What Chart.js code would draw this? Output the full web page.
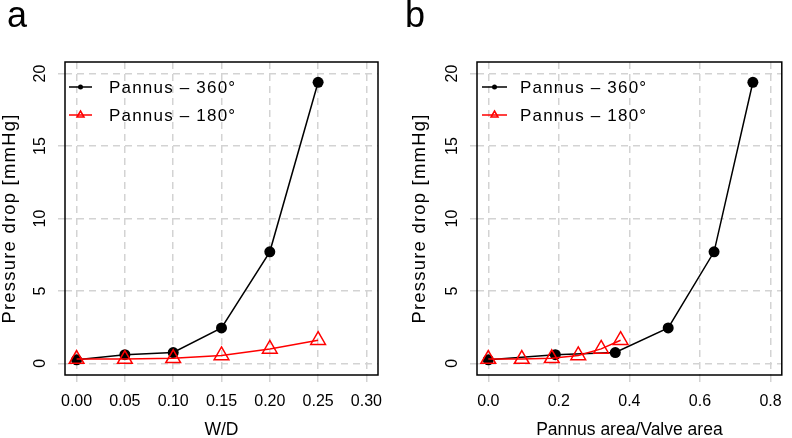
<!DOCTYPE html>
<html>
<head>
<meta charset="utf-8">
<script src="https://cdn.jsdelivr.net/npm/chart.js@4.4.1/dist/chart.umd.min.js"></script>
<style>
  body { margin: 0; background: #fff; }
  .panel { position: absolute; top: 0; width: 396px; height: 438px; }
</style>
</head>
<body>
<div class="panel" style="left:0"><canvas id="chartA"></canvas></div>
<div class="panel" style="left:396px"><canvas id="chartB"></canvas></div>
<script>
// values
const seriesNames = ["Pannus – 360°", "Pannus – 180°"];
const wdRatio360 = [0, 0.05, 0.10, 0.15, 0.20, 0.25];
const wdRatio180 = [0, 0.05, 0.10, 0.15, 0.20, 0.25];
const areaRatio360 = [0, 0.19, 0.36, 0.51, 0.64, 0.75];
const areaRatio180 = [0, 0.095, 0.18, 0.255, 0.32, 0.375];
const drop360 = [0.25, 0.6, 0.75, 2.45, 7.7, 19.4];
const drop180 = [0.3, 0.3, 0.35, 0.55, 1.0, 1.6];

const yTicks = [0, 5, 10, 15, 20];
const xTicksA = [0, 0.05, 0.10, 0.15, 0.20, 0.25, 0.30];
const xTickLabelsA = ["0.00", "0.05", "0.10", "0.15", "0.20", "0.25", "0.30"];
const xTicksB = [0, 0.2, 0.4, 0.6, 0.8];
const xTickLabelsB = ["0.0", "0.2", "0.4", "0.6", "0.8"];
const yTitle = "Pressure drop [mmHg]";

const FONT = "'Liberation Sans', Arial, sans-serif";
const RED = "#ff0000";
const GRID = "#d3d3d3";

function toPoints(xs, ys) {
  return xs.map((x, i) => ({ x: x, y: ys[i] }));
}

// frame, rotated y labels, legend and panel letter
const framePlugin = {
  id: "frame",
  afterDraw(chart, args, opts) {
    const ctx = chart.ctx;
    const area = chart.chartArea;
    const yScale = chart.scales.y;
    ctx.save();

    ctx.strokeStyle = "#000";
    ctx.lineWidth = 1.5;
    ctx.strokeRect(area.left, area.top, area.right - area.left, area.bottom - area.top);

    ctx.fillStyle = "#000";
    ctx.font = "16px " + FONT;
    ctx.textAlign = "center";
    ctx.textBaseline = "middle";
    yTicks.forEach((v) => {
      ctx.save();
      ctx.translate(area.left - 24, yScale.getPixelForValue(v));
      ctx.rotate(-Math.PI / 2);
      ctx.fillText(String(v), 0, 0);
      ctx.restore();
    });

    // y axis title
    ctx.save();
    ctx.font = "18.5px " + FONT;
    ctx.letterSpacing = "1.2px";
    ctx.translate(area.left - opts.titleOffset, (area.top + area.bottom) / 2);
    ctx.rotate(-Math.PI / 2);
    ctx.fillText(yTitle, 0, 0);
    ctx.restore();

    // legend
    ctx.save();
    ctx.font = "17px " + FONT;
    ctx.letterSpacing = "1.2px";
    ctx.textAlign = "left";
    const rows = [
      { name: seriesNames[0], color: "#000", marker: "dot" },
      { name: seriesNames[1], color: RED, marker: "tri" },
    ];
    rows.forEach((row, i) => {
      const y = area.top + 25 + i * 28;
      const x1 = area.left + opts.lineStart;
      const x2 = area.left + opts.lineEnd;
      const xm = (x1 + x2) / 2;
      ctx.strokeStyle = row.color;
      ctx.fillStyle = row.color;
      ctx.lineWidth = 1.5;
      ctx.beginPath();
      ctx.moveTo(x1, y);
      ctx.lineTo(x2, y);
      ctx.stroke();
      ctx.beginPath();
      if (row.marker === "dot") {
        ctx.arc(xm, y, 2.5, 0, Math.PI * 2);
        ctx.fill();
      } else {
        ctx.moveTo(xm, y - 4);
        ctx.lineTo(xm + 3.5, y + 2);
        ctx.lineTo(xm - 3.5, y + 2);
        ctx.closePath();
        ctx.stroke();
      }
      ctx.fillStyle = "#000";
      ctx.fillText(row.name, area.left + opts.textStart, y + 1);
    });
    ctx.restore();

    ctx.font = "36px " + FONT;
    ctx.textAlign = "left";
    ctx.textBaseline = "alphabetic";
    ctx.fillText(opts.letter, opts.letterX, 27);
    ctx.restore();
  },
};

function makeChart(id, xs360, xs180, xTicks, xLabels, xMin, xMax, xTitle, panel) {
  const ctx = document.getElementById(id).getContext("2d");
  return new Chart(ctx, {
    type: "line",
    data: {
      datasets: [
        {
          label: seriesNames[0],
          data: toPoints(xs360, drop360),
          borderColor: "#000",
          borderWidth: 1.5,
          pointStyle: "circle",
          pointRadius: 5.5,
          pointBackgroundColor: "#000",
          pointBorderWidth: 0,
          order: 1,
        },
        {
          label: seriesNames[1],
          data: toPoints(xs180, drop180),
          borderColor: RED,
          borderWidth: 1.5,
          pointStyle: "triangle",
          pointRadius: 8.5,
          pointBackgroundColor: "rgba(0,0,0,0)",
          pointBorderColor: RED,
          pointBorderWidth: 1.5,
          order: 0,
        },
      ],
    },
    options: {
      responsive: true,
      maintainAspectRatio: false,
      devicePixelRatio: 1,
      animation: false,
      layout: { padding: { top: 62, right: panel.padRight, left: 0, bottom: 0 } },
      elements: { line: { tension: 0 } },
      scales: {
        x: {
          type: "linear",
          min: xMin,
          max: xMax,
          afterBuildTicks: (scale) => {
            scale.ticks = xTicks.map((v) => ({ value: v }));
          },
          afterFit: (scale) => {
            scale.height = 63;
          },
          grid: {
            color: GRID,
            lineWidth: 1.5,
            tickLength: 7,
            tickBorderDash: [],
          },
          border: { display: false, dash: [7, 5] },
          ticks: {
            color: "#000",
            padding: 10,
            maxRotation: 0,
            font: { family: FONT, size: 16 },
            callback: (v, i) => xLabels[i],
          },
          title: {
            display: true,
            text: xTitle,
            color: "#000",
            padding: { top: 0, bottom: -1 },
            font: { family: FONT, size: 17.5, lineHeight: 1 },
          },
        },
        y: {
          type: "linear",
          min: -0.8,
          max: 20.8,
          afterBuildTicks: (scale) => {
            scale.ticks = yTicks.map((v) => ({ value: v }));
          },
          afterFit: (scale) => {
            scale.width = panel.yWidth;
          },
          grid: {
            color: GRID,
            lineWidth: 1.5,
            tickLength: 7,
            tickBorderDash: [],
          },
          border: { display: false, dash: [7, 5] },
          ticks: { display: false },
        },
      },
      plugins: {
        legend: { display: false },
        tooltip: { enabled: false },
        frame: panel.frame,
      },
    },
    plugins: [framePlugin],
  });
}

makeChart("chartA", wdRatio360, wdRatio180, xTicksA, xTickLabelsA, -0.012, 0.312, "W/D", {
  padRight: 18,
  yWidth: 65,
  frame: { letter: "a", letterX: 7, lineStart: 4, lineEnd: 27, textStart: 44, titleOffset: 55 },
});

makeChart("chartB", areaRatio360, areaRatio180, xTicksB, xTickLabelsB, -0.032, 0.832, "Pannus area/Valve area", {
  padRight: 2,
  yWidth: 81,
  frame: { letter: "b", letterX: 9, lineStart: 5, lineEnd: 30, textStart: 43, titleOffset: 57 },
});
</script>
</body>
</html>
